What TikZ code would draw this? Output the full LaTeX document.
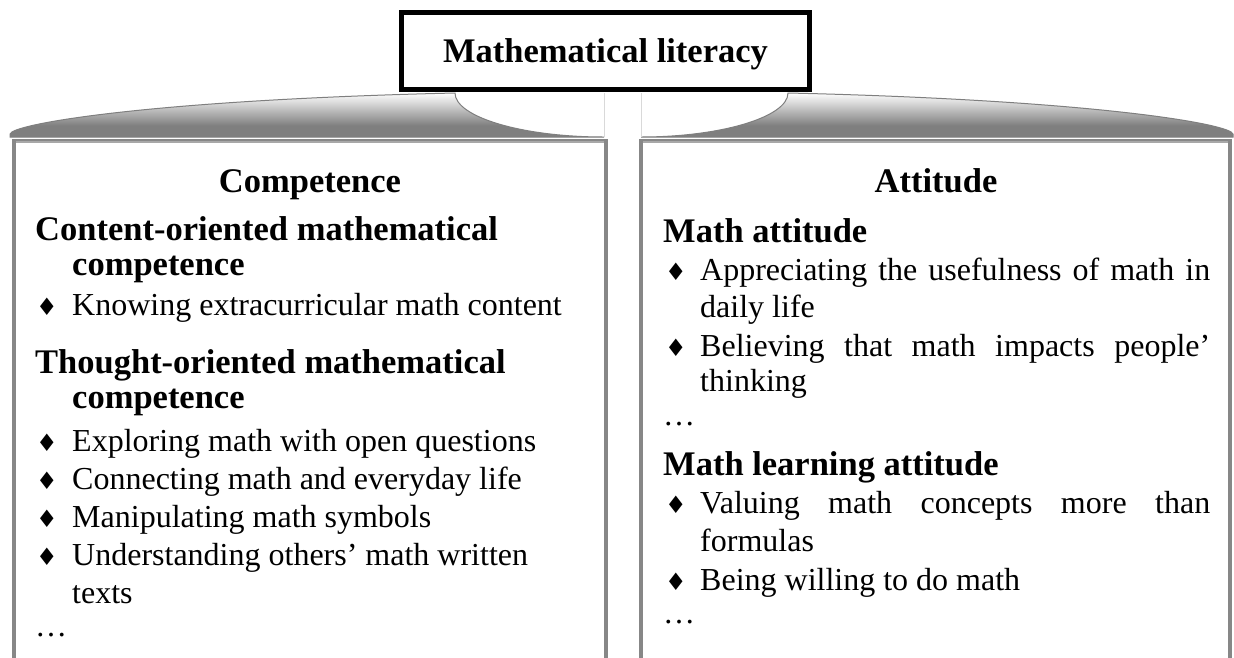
\documentclass[tikz,border=0pt]{standalone}
\usepackage{fontspec}
\setmainfont{Liberation Serif}
\newfontfamily\dvfont{DejaVu Sans}
\definecolor{bracegray}{HTML}{7F7F7F}
\definecolor{boxgray}{HTML}{878787}
\definecolor{boxtop}{HTML}{A8A8A8}
\pgfdeclareverticalshading{braceshade}{100bp}{color(0bp)=(bracegray); color(25bp)=(bracegray); color(38bp)=(bracegray); color(75bp)=(white); color(100bp)=(white)}
\begin{document}
\begin{tikzpicture}[x=1pt,y=-1pt,
  hdr/.style={anchor=base west, inner sep=0pt, font=\fontsize{34.5}{40}\selectfont\bfseries},
  body/.style={anchor=base west, inner sep=0pt, font=\fontsize{32}{37}\selectfont},
  bul/.style={anchor=base west, inner sep=0pt, font=\dvfont\fontsize{24}{24}\selectfont},
  faint/.style={draw=gray!30, line width=0.8pt}]
\useasboundingbox (0,0) rectangle (1234,657);
\fill[white] (0,0) rectangle (1234,657);
% braces
\shadedraw[shading=braceshade, draw=bracegray, line width=1pt]
  (10,137) -- (10,134) .. controls (12,124) and (150,100) .. (455,93)
  .. controls (455,117) and (522,137) .. (604,137) -- cycle;
\shadedraw[shading=braceshade, draw=bracegray, line width=1pt]
  (1233,137) -- (1233,134) .. controls (1231,124) and (1093,100) .. (788,93)
  .. controls (788,117) and (721,137) .. (641,137) -- cycle;
\coordinate (lf1) at (604,93); \coordinate (lf2) at (604,137);
\coordinate (rf1) at (641,93); \coordinate (rf2) at (641,137);
\draw[faint] (lf1) -- (lf2);
\draw[faint] (rf1) -- (rf2);
% title
\node[draw=black, line width=5pt, fill=white, inner sep=0pt, outer sep=0pt,
  minimum width=408pt, minimum height=77pt] (title) at (605.5,51) {};
\node[anchor=base, inner sep=0pt, font=\fontsize{34.5}{40}\selectfont\bfseries] (titletext) at (605.5,62) {Mathematical literacy};
% boxes
\draw[boxgray, line width=4pt] (14,670) -- (14,141) -- (606,141) -- (606,670);
\draw[boxgray, line width=4pt] (641,670) -- (641,141) -- (1230,141) -- (1230,670);
\draw[boxtop, line width=2pt] (16,142) -- (604,142);
\draw[boxtop, line width=2pt] (643,142) -- (1228,142);
% left column
\node[anchor=base, inner sep=0pt, font=\fontsize{34.5}{40}\selectfont\bfseries] (comp) at (310,192) {Competence};
\node[hdr] (h1a) at (35,240) {Content-oriented mathematical};
\node[hdr] (h1b) at (72,275) {competence};
\node[bul] (b1) at (36,315) {♦};
\node[body] (t1) at (72,315) {Knowing extracurricular math content};
\node[hdr] (h2a) at (35,373) {Thought-oriented mathematical};
\node[hdr] (h2b) at (72,408) {competence};
\node[bul] (b2) at (36,451) {♦};
\node[body] (t2) at (72,451) {Exploring math with open questions};
\node[bul] (b3) at (36,489) {♦};
\node[body] (t3) at (72,489) {Connecting math and everyday life};
\node[bul] (b4) at (36,527) {♦};
\node[body] (t4) at (72,527) {Manipulating math symbols};
\node[bul] (b5) at (36,565) {♦};
\node[body] (t5) at (72,565) {Understanding others’ math written};
\node[body] (t5b) at (72,603) {texts};
\node[body] (d1) at (35,636) {…};
% right column
\node[anchor=base, inner sep=0pt, font=\fontsize{34.5}{40}\selectfont\bfseries] (att) at (936,192) {Attitude};
\node[hdr] (h3) at (663,242) {Math attitude};
\node[bul] (b6) at (665,280) {♦};
\node[body] (t6) at (700,280) {\makebox[510pt][s]{Appreciating the usefulness of math in}};
\node[body] (t6b) at (700,317) {daily life};
\node[bul] (b7) at (665,356) {♦};
\node[body] (t7) at (700,356) {\makebox[510pt][s]{Believing that math impacts people’}};
\node[body] (t7b) at (700,391) {thinking};
\node[body] (d2) at (663,425) {…};
\node[hdr] (h4) at (663,475) {Math learning attitude};
\node[bul] (b8) at (665,513) {♦};
\node[body] (t8) at (700,513) {\makebox[510pt][s]{Valuing math concepts more than}};
\node[body] (t8b) at (700,551) {formulas};
\node[bul] (b9) at (665,590) {♦};
\node[body] (t9) at (700,590) {Being willing to do math};
\node[body] (d3) at (663,623) {…};
\end{tikzpicture}
\end{document}
